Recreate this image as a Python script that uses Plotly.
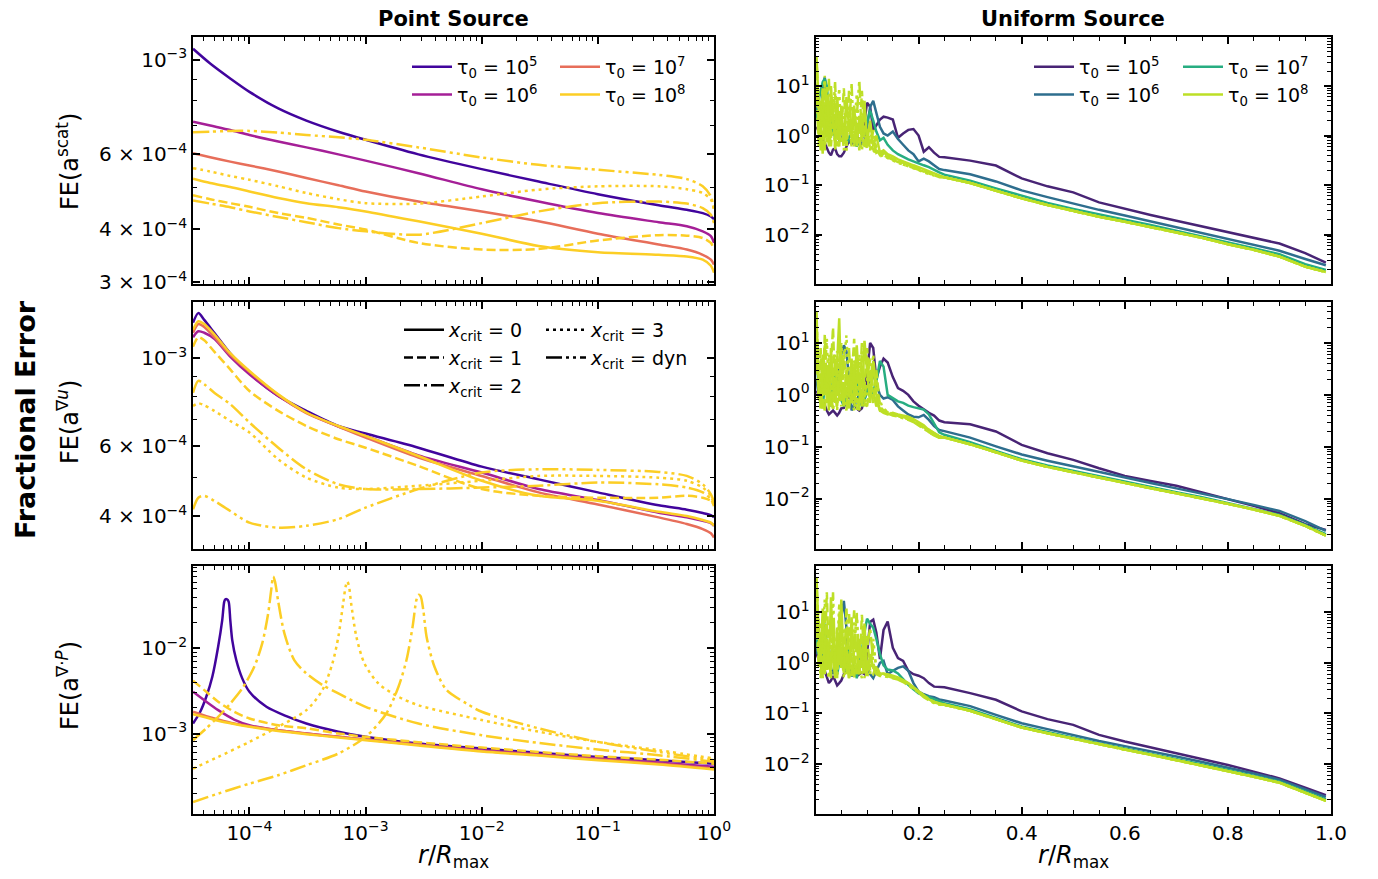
import plotly.graph_objects as go

FONT = "DejaVu Sans"
# the page body keeps an 8px margin, so the figure is drawn 8px smaller and offset
W, H, OFF = 1370, 871, 8


def px(x):
    return (x - OFF) / W


def py(y):
    return 1 - (y - OFF) / H


PLASMA = ["#41049d", "#a51f97", "#e76e5a", "#fcce25"]
VIRIDIS = ["#482475", "#2e6e8e", "#27ad81", "#bddf26"]
TAU_LABELS = [
    "τ<sub>0</sub> = 10<sup>5</sup>",
    "τ<sub>0</sub> = 10<sup>6</sup>",
    "τ<sub>0</sub> = 10<sup>7</sup>",
    "τ<sub>0</sub> = 10<sup>8</sup>",
]
XCRIT_LABELS = [
    "<i>x</i><sub>crit</sub> = 0",
    "<i>x</i><sub>crit</sub> = 1",
    "<i>x</i><sub>crit</sub> = 2",
    "<i>x</i><sub>crit</sub> = 3",
    "<i>x</i><sub>crit</sub> = dyn",
]
DASHES = ["solid", "9px,4px", "16px,4px,3px,4px", "3px,4px", "16px,4px,3px,4px,3px,4px"]

# ---------------- point source (left column), r / R_max ----------------
R_SCAT = [3.27e-5, 4.59e-5, 6.83e-5, 1e-4, 1.77e-4, 3.09e-4, 5.83e-4, 1e-3, 2.85e-3,
          1e-2, 3.09e-2, 0.1, 0.334, 0.583, 0.80, 0.94, 1.0]
SCAT_1E5 = [1.06e-3, 9.79e-4, 9.03e-4, 8.40e-4, 7.68e-4, 7.19e-4, 6.77e-4, 6.48e-4, 5.99e-4,
            5.53e-4, 5.17e-4, 4.83e-4, 4.55e-4, 4.44e-4, 4.36e-4, 4.28e-4, 4.22e-4]
SCAT_1E6 = [7.15e-4, 7.00e-4, 6.83e-4, 6.65e-4, 6.42e-4, 6.22e-4, 5.99e-4, 5.79e-4, 5.41e-4,
            4.96e-4, 4.64e-4, 4.36e-4, 4.15e-4, 4.06e-4, 3.95e-4, 3.85e-4, 3.71e-4]
SCAT_1E7 = [6.03e-4, 5.90e-4, 5.76e-4, 5.64e-4, 5.46e-4, 5.27e-4, 5.07e-4, 4.90e-4, 4.64e-4,
            4.40e-4, 4.17e-4, 3.90e-4, 3.68e-4, 3.58e-4, 3.48e-4, 3.39e-4, 3.30e-4]
SCAT_1E8 = [5.25e-4, 5.13e-4, 5.02e-4, 4.90e-4, 4.73e-4, 4.60e-4, 4.50e-4, 4.40e-4, 4.17e-4,
            3.90e-4, 3.65e-4, 3.53e-4, 3.48e-4, 3.45e-4, 3.39e-4, 3.28e-4, 3.16e-4]
SCAT_1E8_X1 = [4.80e-4, 4.70e-4, 4.60e-4, 4.51e-4, 4.36e-4, 4.25e-4, 4.10e-4, 3.99e-4, 3.71e-4,
               3.58e-4, 3.59e-4, 3.76e-4, 3.87e-4, 3.86e-4, 3.81e-4, 3.71e-4, 3.58e-4]
SCAT_1E8_X2 = [4.67e-4, 4.59e-4, 4.50e-4, 4.40e-4, 4.27e-4, 4.15e-4, 4.02e-4, 3.95e-4, 3.88e-4,
               4.13e-4, 4.40e-4, 4.60e-4, 4.64e-4, 4.59e-4, 4.48e-4, 4.32e-4, 4.13e-4]
SCAT_1E8_X3 = [5.56e-4, 5.46e-4, 5.33e-4, 5.22e-4, 5.04e-4, 4.86e-4, 4.70e-4, 4.60e-4, 4.59e-4,
               4.77e-4, 4.95e-4, 5.04e-4, 5.04e-4, 4.96e-4, 4.86e-4, 4.69e-4, 4.44e-4]
SCAT_1E8_DYN = [6.75e-4, 6.77e-4, 6.80e-4, 6.80e-4, 6.74e-4, 6.65e-4, 6.57e-4, 6.48e-4, 6.22e-4,
                5.89e-4, 5.66e-4, 5.51e-4, 5.36e-4, 5.24e-4, 5.04e-4, 4.77e-4, 4.40e-4]

R_GRADU = [3.27e-5, 3.63e-5, 4.08e-5, 4.98e-5, 6.83e-5, 1e-4, 1.77e-4, 3.09e-4, 5.83e-4, 1e-3,
           2.85e-3, 1e-2, 3.09e-2, 0.1, 0.334, 0.583, 0.80, 0.94, 1.0]
GRADU_1E5 = [1.23e-3, 1.30e-3, 1.25e-3, 1.16e-3, 1.03e-3, 9.17e-4, 8.04e-4, 7.37e-4, 6.75e-4, 6.46e-4,
             5.95e-4, 5.33e-4, 4.95e-4, 4.59e-4, 4.26e-4, 4.15e-4, 4.07e-4, 4.02e-4, 3.97e-4]
GRADU_1E6 = [1.13e-3, 1.17e-3, 1.16e-3, 1.12e-3, 1.01e-3, 9.11e-4, 8.04e-4, 7.30e-4, 6.73e-4, 6.37e-4,
             5.69e-4, 5.15e-4, 4.68e-4, 4.39e-4, 4.08e-4, 3.97e-4, 3.89e-4, 3.84e-4, 3.78e-4]
GRADU_1E7 = [1.16e-3, 1.22e-3, 1.20e-3, 1.13e-3, 1.02e-3, 9.24e-4, 8.08e-4, 7.27e-4, 6.73e-4, 6.31e-4,
             5.62e-4, 5.05e-4, 4.59e-4, 4.28e-4, 3.97e-4, 3.82e-4, 3.71e-4, 3.62e-4, 3.53e-4]
GRADU_1E8 = [1.18e-3, 1.24e-3, 1.22e-3, 1.15e-3, 1.03e-3, 9.29e-4, 8.11e-4, 7.30e-4, 6.75e-4, 6.37e-4,
             5.67e-4, 4.91e-4, 4.50e-4, 4.37e-4, 4.10e-4, 4.00e-4, 3.91e-4, 3.85e-4, 3.78e-4]
GRADU_1E8_X1 = [1.07e-3, 1.13e-3, 1.11e-3, 1.04e-3, 9.38e-4, 8.27e-4, 7.37e-4, 6.75e-4, 6.25e-4, 5.95e-4,
                5.35e-4, 4.68e-4, 4.50e-4, 4.45e-4, 4.45e-4, 4.50e-4, 4.45e-4, 4.37e-4, 4.28e-4]
GRADU_1E8_X2 = [8.19e-4, 8.77e-4, 8.60e-4, 8.19e-4, 7.66e-4, 6.89e-4, 5.95e-4, 5.25e-4, 4.81e-4, 4.68e-4,
                4.68e-4, 4.72e-4, 4.77e-4, 4.86e-4, 4.81e-4, 4.72e-4, 4.59e-4, 4.41e-4, 4.24e-4]
GRADU_1E8_X3 = [7.58e-4, 7.70e-4, 7.61e-4, 7.37e-4, 6.95e-4, 6.50e-4, 5.56e-4, 5.00e-4, 4.72e-4, 4.68e-4,
                4.77e-4, 4.91e-4, 5.05e-4, 5.05e-4, 5.00e-4, 4.91e-4, 4.72e-4, 4.50e-4, 4.24e-4]
GRADU_1E8_DYN = [4.16e-4, 4.45e-4, 4.50e-4, 4.37e-4, 4.12e-4, 3.85e-4, 3.74e-4, 3.78e-4, 3.93e-4, 4.20e-4,
                 4.68e-4, 5.15e-4, 5.25e-4, 5.23e-4, 5.17e-4, 5.05e-4, 4.81e-4, 4.54e-4, 4.33e-4]

R_DIVP_1E5 = [3.27e-5, 3.77e-5, 4.25e-5, 4.79e-5, 5.38e-5, 5.83e-5, 6.07e-5, 6.21e-5, 6.41e-5,
              6.62e-5, 6.84e-5, 7.11e-5, 7.70e-5, 8.67e-5, 1e-4, 1.40e-4, 2.08e-4, 3.09e-4,
              5.83e-4, 1e-3, 2.85e-3, 1e-2, 3.09e-2, 0.1, 0.334, 1.0]
DIVP_1E5 = [1.31e-3, 1.80e-3, 2.70e-3, 4.64e-3, 1.05e-2, 2.15e-2, 3.54e-2, 3.77e-2, 3.77e-2,
            3.54e-2, 2.15e-2, 1.25e-2, 7.29e-3, 4.44e-3, 3.09e-3, 2.06e-3, 1.60e-3, 1.31e-3,
            1.05e-3, 9.14e-4, 7.62e-4, 6.66e-4, 5.93e-4, 5.31e-4, 4.85e-4, 4.43e-4]
R_DIVP = [3.27e-5, 4.25e-5, 5.38e-5, 7.39e-5, 1e-4, 1.77e-4, 3.09e-4, 5.83e-4, 1e-3, 2.85e-3,
          1e-2, 3.09e-2, 0.1, 0.334, 1.0]
DIVP_1E6 = [3.09e-3, 2.36e-3, 1.88e-3, 1.46e-3, 1.25e-3, 1.09e-3, 1.0e-3, 9.14e-4, 8.49e-4, 7.43e-4,
            6.37e-4, 5.71e-4, 5.08e-4, 4.56e-4, 4.06e-4]
DIVP_1E7 = [1.80e-3, 1.60e-3, 1.46e-3, 1.31e-3, 1.22e-3, 1.09e-3, 1.0e-3, 9.14e-4, 8.49e-4, 7.36e-4,
            6.25e-4, 5.61e-4, 4.94e-4, 4.43e-4, 3.87e-4]
DIVP_1E8 = [1.69e-3, 1.54e-3, 1.41e-3, 1.29e-3, 1.20e-3, 1.07e-3, 9.82e-4, 8.97e-4, 8.35e-4, 7.23e-4,
            6.14e-4, 5.51e-4, 4.85e-4, 4.32e-4, 3.77e-4]
DIVP_1E8_X1 = [4.17e-3, 3.09e-3, 2.36e-3, 1.80e-3, 1.50e-3, 1.25e-3, 1.15e-3, 1.0e-3, 9.14e-4, 7.91e-4,
               6.84e-4, 6.08e-4, 5.41e-4, 4.94e-4, 4.43e-4]
R_DIVP_X2 = [3.27e-5, 4.25e-5, 5.38e-5, 6.84e-5, 8.67e-5, 1.10e-4, 1.29e-4, 1.45e-4, 1.54e-4, 1.60e-4,
             1.66e-4, 1.77e-4, 2.00e-4, 2.43e-4, 3.09e-4, 4.25e-4, 5.83e-4, 1e-3, 2.85e-3, 1e-2,
             3.09e-2, 0.1, 0.334, 1.0]
DIVP_1E8_X2 = [8.35e-4, 1.15e-3, 1.57e-3, 2.25e-3, 3.38e-3, 6.08e-3, 1.15e-2, 2.58e-2, 4.86e-2, 6.97e-2,
               6.08e-2, 3.54e-2, 1.50e-2, 7.29e-3, 5.08e-3, 3.71e-3, 2.96e-3, 2.06e-3, 1.31e-3, 9.55e-4,
               7.76e-4, 6.48e-4, 5.56e-4, 4.65e-4]
R_DIVP_X3 = [3.27e-5, 5.38e-5, 1e-4, 1.77e-4, 3.09e-4, 4.25e-4, 5.18e-4, 5.83e-4, 6.41e-4, 6.73e-4,
             6.94e-4, 7.16e-4, 7.51e-4, 8.33e-4, 9.77e-4, 1.29e-3, 1.92e-3, 2.85e-3, 1e-2, 3.09e-2,
             0.1, 0.334, 1.0]
DIVP_1E8_X3 = [3.87e-4, 5.31e-4, 7.98e-4, 1.20e-3, 1.88e-3, 3.24e-3, 6.66e-3, 1.37e-2, 3.38e-2, 5.31e-2,
               6.08e-2, 5.56e-2, 3.38e-2, 1.37e-2, 6.66e-3, 3.87e-3, 2.70e-3, 2.15e-3, 1.44e-3, 1.05e-3,
               7.98e-4, 6.37e-4, 5.08e-4]
R_DIVP_DYN = [3.27e-5, 5.38e-5, 1e-4, 1.77e-4, 3.09e-4, 5.83e-4, 1e-3, 1.51e-3, 1.92e-3, 2.25e-3,
              2.54e-3, 2.74e-3, 2.85e-3, 2.97e-3, 3.14e-3, 3.35e-3, 3.92e-3, 4.98e-3, 7.40e-3, 1e-2,
              3.09e-2, 0.1, 0.334, 1.0]
DIVP_1E8_DYN = [1.57e-4, 1.97e-4, 2.58e-4, 3.24e-4, 4.24e-4, 5.82e-4, 9.14e-4, 1.72e-3, 3.54e-3, 7.29e-3,
                1.80e-2, 3.71e-2, 4.24e-2, 4.13e-2, 2.82e-2, 1.37e-2, 6.08e-3, 3.24e-3, 2.25e-3, 1.80e-3,
                1.15e-3, 7.98e-4, 6.08e-4, 4.85e-4]

# ---------------- uniform source (right column), r / R_max ----------------
HEAD_X = [0.002, 0.006, 0.01, 0.014, 0.018, 0.022, 0.026, 0.03, 0.034, 0.038, 0.042, 0.046, 0.05,
          0.055, 0.06, 0.065, 0.07, 0.075, 0.08, 0.085, 0.09, 0.095, 0.1, 0.106, 0.112, 0.118,
          0.125, 0.132, 0.14, 0.15, 0.16, 0.17, 0.18, 0.19, 0.2, 0.21, 0.22, 0.23, 0.24]
TAIL_X = [0.25, 0.3, 0.35, 0.4, 0.45, 0.5, 0.55, 0.6, 0.65, 0.7, 0.75, 0.8, 0.85, 0.9, 0.95, 0.99]

U_SCAT_1E5_HEAD = [1.5, 1.2, 1.0, 0.8, 0.7, 0.55, 0.45, 0.40, 0.52, 0.55, 0.42, 0.38, 0.38, 0.45, 0.6,
                   0.78, 0.68, 0.72, 0.95, 0.85, 0.8, 2.0, 4.6, 3.8, 1.3, 1.6, 2.1, 2.4, 2.3, 2.1,
                   0.9, 1.1, 1.3, 1.35, 1.0, 0.47, 0.58, 0.45, 0.37]
U_SCAT_1E6_HEAD = [3.0, 5.0, 2.0, 8.0, 15, 6.0, 1.5, 1.0, 1.8, 2.0, 1.2, 0.8, 0.8, 1.2, 1.1,
                   0.75, 0.7, 0.8, 0.85, 0.75, 0.68, 0.68, 1.5, 3.8, 5.0, 2.7, 1.5, 1.1, 1.0, 1.2,
                   0.85, 0.65, 0.5, 0.42, 0.30, 0.34, 0.30, 0.25, 0.21]
U_SCAT_1E7_HEAD = [2.0, 5.0, 8.0, 12, 14, 10, 3.0, 2.0, 1.2, 0.9, 1.2, 1.5, 1.5, 1.0, 0.7,
                   0.9, 1.1, 0.8, 0.6, 0.75, 0.9, 1.2, 1.8, 3.2, 2.0, 1.2, 0.8, 0.9, 0.65, 0.5,
                   0.42, 0.37, 0.33, 0.30, 0.27, 0.25, 0.23, 0.20, 0.18]
U_SCAT_1E8_HEAD = [40, 3.0, 0.5, 8.0, 1.2, 6.0, 0.6, 10, 2.0, 0.8, 5.0, 1.0, 3.5, 0.7, 6.0,
                   1.5, 0.9, 4.0, 0.6, 2.5, 0.8, 5.0, 0.7, 2.0, 0.6, 1.0, 0.45, 0.5, 0.42, 0.38,
                   0.33, 0.30, 0.27, 0.25, 0.23, 0.21, 0.19, 0.175, 0.16]
U_SCAT_1E8_X1_HEAD = [20, 1.0, 5.0, 0.4, 12, 2.0, 0.7, 4.0, 1.5, 7.0, 0.6, 3.0, 1.1, 9.0, 0.8,
                      2.0, 0.6, 3.5, 1.2, 0.7, 8.0, 1.0, 0.55, 1.5, 0.5, 0.6, 0.40, 0.42, 0.38, 0.34,
                      0.30, 0.28, 0.25, 0.23, 0.21, 0.195, 0.18, 0.165, 0.15]
U_SCAT_1E8_X2_HEAD = [8, 0.6, 3.0, 9.0, 0.5, 1.8, 14, 0.9, 2.5, 0.6, 6.0, 0.8, 2.2, 0.5, 4.0,
                      1.2, 11, 0.7, 1.8, 0.5, 2.0, 0.6, 1.4, 0.5, 0.8, 0.45, 0.5, 0.40, 0.36, 0.32,
                      0.29, 0.26, 0.24, 0.22, 0.20, 0.185, 0.17, 0.155, 0.145]
U_SCAT_1E8_X3_HEAD = [15, 2.0, 0.8, 4.0, 16, 0.7, 3.0, 1.0, 6.0, 0.5, 2.0, 9.0, 0.7, 1.5, 0.5,
                      3.0, 0.8, 1.2, 7.0, 0.9, 0.5, 1.6, 0.6, 0.9, 0.45, 0.55, 0.38, 0.40, 0.35, 0.31,
                      0.28, 0.26, 0.24, 0.22, 0.20, 0.18, 0.17, 0.155, 0.145]
U_SCAT_1E8_DYN_HEAD = [30, 5.0, 1.0, 0.5, 3.0, 10, 1.5, 0.6, 2.5, 12, 1.0, 0.6, 4.0, 1.8, 0.5,
                       8.0, 1.1, 0.6, 2.4, 13, 0.8, 0.55, 1.0, 0.5, 1.3, 0.5, 0.42, 0.45, 0.40, 0.35,
                       0.31, 0.28, 0.25, 0.23, 0.21, 0.19, 0.175, 0.16, 0.15]
U_SCAT_1E5_TAIL = [0.364, 0.311, 0.247, 0.136, 0.094, 0.071, 0.0446, 0.0327, 0.0247, 0.0189,
                   0.0145, 0.0115, 0.00869, 0.00657, 0.00419, 0.00271]
U_SCAT_1E6_TAIL = [0.20, 0.165, 0.118, 0.078, 0.057, 0.042, 0.0315, 0.0242, 0.0184, 0.0143,
                   0.0110, 0.00830, 0.00620, 0.00470, 0.00320, 0.00240]
U_SCAT_1E7_TAIL = [0.162, 0.122, 0.0856, 0.0608, 0.0432, 0.0327, 0.0251, 0.0198, 0.0155, 0.0119,
                   0.00925, 0.00689, 0.00528, 0.00399, 0.00251, 0.00192]
U_SCAT_1E8_TAIL = [0.143, 0.110, 0.0768, 0.0537, 0.0394, 0.0297, 0.0228, 0.0181, 0.0141, 0.0110,
                   0.00855, 0.00637, 0.00489, 0.00358, 0.00224, 0.00175]

U_GRADU_1E5_HEAD = [1.2, 1.0, 1.0, 0.8, 0.6, 0.5, 0.42, 0.45, 0.5, 0.45, 0.40, 0.45, 0.55, 0.56, 0.8,
                    0.95, 0.85, 0.7, 0.55, 0.5, 0.55, 0.9, 3.0, 10, 8.0, 2.0, 3.5, 5.0, 4.2, 2.2,
                    1.35, 1.2, 1.0, 0.75, 0.62, 0.52, 0.45, 0.40, 0.32]
U_GRADU_1E6_HEAD = [2.0, 1.0, 0.8, 2.5, 3.0, 1.5, 1.0, 0.6, 0.9, 1.4, 1.6, 3.0, 6.0, 9.0, 7.0,
                    2.0, 0.5, 0.65, 0.75, 1.1, 1.2, 0.8, 1.2, 2.0, 2.5, 1.6, 1.0, 0.85, 0.9, 0.8,
                    0.6, 0.5, 0.42, 0.38, 0.37, 0.41, 0.33, 0.25, 0.21]
U_GRADU_1E7_HEAD = [5.0, 1.5, 1.0, 0.6, 1.5, 2.5, 1.2, 0.9, 2.0, 3.0, 1.5, 1.0, 0.8, 0.6, 1.0,
                    1.4, 0.8, 1.5, 2.0, 0.9, 0.6, 0.8, 1.3, 0.9, 1.2, 1.8, 4.5, 3.5, 1.0, 0.85,
                    0.75, 0.7, 0.62, 0.58, 0.55, 0.52, 0.42, 0.28, 0.19]
U_GRADU_1E8_HEAD = [30, 2.0, 0.6, 6.0, 1.0, 3.0, 0.5, 8.0, 1.5, 0.7, 4.0, 30, 1.2, 0.6, 3.0,
                    0.9, 5.0, 0.8, 9.0, 1.5, 0.6, 11, 3.0, 0.7, 4.5, 1.0, 0.5, 0.45, 0.42, 0.45,
                    0.42, 0.40, 0.38, 0.34, 0.30, 0.26, 0.21, 0.18, 0.16]
U_GRADU_1E8_X1_HEAD = [12, 0.8, 5.0, 0.5, 15, 1.5, 0.7, 3.5, 20, 1.0, 0.6, 2.5, 0.8, 7.0, 1.2,
                       0.5, 2.0, 12, 1.0, 0.6, 3.5, 1.4, 8.0, 1.5, 0.7, 3.0, 0.6, 0.5, 0.45, 0.42,
                       0.40, 0.37, 0.35, 0.31, 0.27, 0.23, 0.19, 0.17, 0.15]
U_GRADU_1E8_X2_HEAD = [5, 1.2, 0.5, 2.5, 9.0, 0.7, 4.0, 1.1, 0.5, 6.0, 2.0, 0.8, 10, 1.5, 0.5,
                       2.2, 0.7, 4.0, 1.0, 0.5, 6.0, 0.9, 2.0, 5.0, 1.2, 0.6, 0.8, 0.5, 0.44, 0.40,
                       0.38, 0.36, 0.33, 0.30, 0.26, 0.22, 0.19, 0.165, 0.15]
U_GRADU_1E8_X3_HEAD = [20, 4.0, 1.0, 0.6, 3.0, 12, 0.8, 1.6, 0.5, 2.5, 7.0, 1.0, 0.6, 4.0, 14,
                       1.2, 0.7, 2.0, 0.5, 6.0, 1.5, 0.6, 1.0, 3.0, 0.8, 2.0, 0.55, 0.5, 0.46, 0.42,
                       0.39, 0.36, 0.34, 0.32, 0.28, 0.24, 0.20, 0.17, 0.15]
U_GRADU_1E8_DYN_HEAD = [40, 1.5, 8.0, 0.8, 0.5, 2.0, 6.0, 0.6, 3.0, 1.2, 0.5, 5.0, 2.5, 0.7, 1.5,
                        8.0, 0.9, 0.5, 3.0, 1.0, 10, 0.7, 0.6, 1.5, 6.0, 0.8, 0.5, 0.55, 0.47, 0.43,
                        0.40, 0.37, 0.35, 0.33, 0.29, 0.25, 0.21, 0.18, 0.16]
U_GRADU_1E5_TAIL = [0.297, 0.272, 0.197, 0.109, 0.0752, 0.0559, 0.0386, 0.0275, 0.0220, 0.0177,
                    0.0131, 0.00977, 0.00727, 0.00525, 0.00322, 0.00250]
U_GRADU_1E6_TAIL = [0.20, 0.15, 0.102, 0.071, 0.054, 0.042, 0.0323, 0.0254, 0.0200, 0.0158,
                    0.0126, 0.0098, 0.0076, 0.0058, 0.0037, 0.0024]
U_GRADU_1E7_TAIL = [0.170, 0.122, 0.0834, 0.0576, 0.0435, 0.0343, 0.0263, 0.0211, 0.0166, 0.0133,
                    0.0107, 0.00830, 0.00646, 0.00487, 0.00313, 0.00207]
U_GRADU_1E8_TAIL = [0.151, 0.112, 0.0786, 0.0543, 0.0410, 0.0324, 0.0248, 0.0199, 0.0159, 0.0127,
                    0.0102, 0.00794, 0.00618, 0.00466, 0.00299, 0.00195]

U_DIVP_1E5_HEAD = [1.5, 1.2, 1.2, 0.9, 0.7, 0.5, 0.40, 0.45, 0.55, 0.45, 0.36, 0.40, 0.45, 0.6, 0.8,
                   0.9, 0.7, 0.6, 0.55, 0.6, 0.65, 0.6, 1.5, 6.5, 7.2, 4.0, 1.2, 4.5, 6.6, 2.0,
                   1.25, 1.1, 0.7, 0.60, 0.56, 0.50, 0.40, 0.34, 0.33]
U_DIVP_1E6_HEAD = [1.5, 2.5, 3.0, 1.2, 0.8, 1.5, 2.0, 0.8, 0.6, 0.9, 1.2, 2.5, 8.0, 17, 5.0,
                   0.8, 0.54, 0.74, 0.62, 0.9, 1.5, 1.1, 0.8, 0.6, 0.5, 0.7, 1.0, 1.1, 0.6, 0.7,
                   0.8, 0.86, 0.7, 0.4, 0.27, 0.24, 0.22, 0.21, 0.19]
U_DIVP_1E7_HEAD = [3.0, 1.5, 1.0, 3.0, 6.0, 2.0, 0.8, 1.2, 2.0, 0.9, 0.6, 1.0, 1.5, 0.8, 0.7,
                   2.0, 1.2, 0.9, 0.5, 1.0, 1.8, 4.0, 7.5, 6.0, 5.0, 3.0, 1.5, 0.9, 0.74, 0.71,
                   0.62, 0.48, 0.37, 0.30, 0.25, 0.23, 0.21, 0.19, 0.175]
U_DIVP_1E8_HEAD = [50, 4.0, 1.0, 12, 0.6, 3.0, 0.8, 20, 1.5, 0.5, 5.0, 0.9, 18, 0.7, 2.0,
                   0.5, 8.0, 1.0, 0.6, 3.0, 0.8, 6.0, 0.6, 1.5, 0.8, 0.65, 0.62, 0.62, 0.60, 0.56,
                   0.52, 0.46, 0.40, 0.33, 0.28, 0.23, 0.19, 0.17, 0.16]
U_DIVP_1E8_X1_HEAD = [15, 0.8, 6.0, 0.5, 2.0, 25, 1.0, 0.6, 4.0, 1.5, 0.5, 9.0, 0.8, 3.0, 0.6,
                      10, 1.2, 0.5, 2.5, 0.7, 9.0, 1.0, 3.5, 0.7, 0.6, 0.9, 0.6, 0.58, 0.55, 0.52,
                      0.48, 0.44, 0.38, 0.32, 0.27, 0.22, 0.19, 0.165, 0.155]
U_DIVP_1E8_X2_HEAD = [6.0, 1.5, 0.5, 3.0, 10, 0.7, 1.8, 0.5, 8.0, 2.0, 0.6, 1.5, 4.0, 0.6, 12,
                      1.0, 0.5, 2.5, 9.0, 0.6, 1.2, 0.5, 2.0, 5.0, 1.0, 0.6, 0.55, 0.55, 0.52, 0.50,
                      0.47, 0.42, 0.36, 0.31, 0.26, 0.21, 0.18, 0.16, 0.15]
U_DIVP_1E8_X3_HEAD = [25, 2.0, 0.7, 5.0, 18, 0.9, 0.5, 2.5, 6.0, 0.7, 1.2, 15, 2.0, 0.5, 1.0,
                      4.0, 0.7, 2.0, 10, 0.8, 0.5, 2.5, 1.0, 0.6, 3.0, 0.7, 0.58, 0.60, 0.57, 0.53,
                      0.49, 0.44, 0.38, 0.32, 0.27, 0.22, 0.185, 0.165, 0.15]
U_DIVP_1E8_DYN_HEAD = [35, 8.0, 1.2, 0.6, 2.5, 6.0, 0.5, 1.5, 25, 1.0, 0.6, 3.0, 0.8, 5.0, 1.5,
                       0.5, 2.0, 11, 1.0, 0.6, 3.5, 0.8, 0.5, 1.0, 2.0, 0.8, 0.6, 0.62, 0.58, 0.54,
                       0.50, 0.45, 0.39, 0.33, 0.28, 0.23, 0.19, 0.17, 0.155]
U_DIVP_1E5_TAIL = [0.329, 0.253, 0.187, 0.110, 0.0772, 0.0596, 0.0377, 0.0278, 0.0214, 0.0163,
                   0.0124, 0.00955, 0.00705, 0.00519, 0.00339, 0.00242]
U_DIVP_1E6_TAIL = [0.18, 0.140, 0.094, 0.064, 0.049, 0.0375, 0.0285, 0.0226, 0.0180, 0.0141,
                   0.0110, 0.0085, 0.0065, 0.0049, 0.0032, 0.00222]
U_DIVP_1E7_TAIL = [0.160, 0.122, 0.0807, 0.0552, 0.0432, 0.0329, 0.0254, 0.0202, 0.0160, 0.0126,
                   0.00984, 0.00760, 0.00586, 0.00446, 0.00286, 0.00199]
U_DIVP_1E8_TAIL = [0.149, 0.113, 0.0772, 0.0527, 0.0407, 0.0314, 0.0242, 0.0193, 0.0153, 0.0120,
                   0.00941, 0.00726, 0.00560, 0.00426, 0.00274, 0.00187]

fig = go.Figure()


def add_line(x, y, ax, color, dash="solid", name=None, legend=None, smooth=True):
    fig.add_trace(
        go.Scatter(
            x=x,
            y=y,
            xaxis="x" + ax,
            yaxis="y" + ax,
            mode="lines",
            line={"color": color, "width": 2.5, "dash": dash,
                  "shape": "spline" if smooth else "linear", "smoothing": 0.8},
            name=name,
            showlegend=legend is not None,
            legend=legend or "legend",
            hoverinfo="skip",
        )
    )


# point source panels
left_panels = [
    ("", [(R_SCAT, SCAT_1E5), (R_SCAT, SCAT_1E6), (R_SCAT, SCAT_1E7), (R_SCAT, SCAT_1E8)],
     [(R_SCAT, SCAT_1E8_X1), (R_SCAT, SCAT_1E8_X2), (R_SCAT, SCAT_1E8_X3), (R_SCAT, SCAT_1E8_DYN)]),
    ("3", [(R_GRADU, GRADU_1E5), (R_GRADU, GRADU_1E6), (R_GRADU, GRADU_1E7), (R_GRADU, GRADU_1E8)],
     [(R_GRADU, GRADU_1E8_X1), (R_GRADU, GRADU_1E8_X2), (R_GRADU, GRADU_1E8_X3), (R_GRADU, GRADU_1E8_DYN)]),
    ("5", [(R_DIVP_1E5, DIVP_1E5), (R_DIVP, DIVP_1E6), (R_DIVP, DIVP_1E7), (R_DIVP, DIVP_1E8)],
     [(R_DIVP, DIVP_1E8_X1), (R_DIVP_X2, DIVP_1E8_X2), (R_DIVP_X3, DIVP_1E8_X3), (R_DIVP_DYN, DIVP_1E8_DYN)]),
]
for ax, solids, variants in left_panels:
    for i, (x, y) in enumerate(solids):
        leg = None
        if ax == "":
            leg = "legend" if i < 2 else "legend2"
        add_line(x, y, ax, PLASMA[i], name=TAU_LABELS[i], legend=leg)
    for k, (x, y) in enumerate(variants):
        add_line(x, y, ax, PLASMA[3], dash=DASHES[k + 1])

# uniform source panels
right_panels = [
    ("2", [U_SCAT_1E5_HEAD, U_SCAT_1E6_HEAD, U_SCAT_1E7_HEAD, U_SCAT_1E8_HEAD],
     [U_SCAT_1E5_TAIL, U_SCAT_1E6_TAIL, U_SCAT_1E7_TAIL, U_SCAT_1E8_TAIL],
     [U_SCAT_1E8_X1_HEAD, U_SCAT_1E8_X2_HEAD, U_SCAT_1E8_X3_HEAD, U_SCAT_1E8_DYN_HEAD]),
    ("4", [U_GRADU_1E5_HEAD, U_GRADU_1E6_HEAD, U_GRADU_1E7_HEAD, U_GRADU_1E8_HEAD],
     [U_GRADU_1E5_TAIL, U_GRADU_1E6_TAIL, U_GRADU_1E7_TAIL, U_GRADU_1E8_TAIL],
     [U_GRADU_1E8_X1_HEAD, U_GRADU_1E8_X2_HEAD, U_GRADU_1E8_X3_HEAD, U_GRADU_1E8_DYN_HEAD]),
    ("6", [U_DIVP_1E5_HEAD, U_DIVP_1E6_HEAD, U_DIVP_1E7_HEAD, U_DIVP_1E8_HEAD],
     [U_DIVP_1E5_TAIL, U_DIVP_1E6_TAIL, U_DIVP_1E7_TAIL, U_DIVP_1E8_TAIL],
     [U_DIVP_1E8_X1_HEAD, U_DIVP_1E8_X2_HEAD, U_DIVP_1E8_X3_HEAD, U_DIVP_1E8_DYN_HEAD]),
]
for ax, heads, tails, variants in right_panels:
    for i in range(4):
        leg = None
        if ax == "2":
            leg = "legend5" if i < 2 else "legend6"
        add_line(HEAD_X + TAIL_X, heads[i] + tails[i], ax, VIRIDIS[i],
                 name=TAU_LABELS[i], legend=leg, smooth=False)
    for k, head in enumerate(variants):
        add_line(HEAD_X + TAIL_X, head + tails[3], ax, VIRIDIS[3], dash=DASHES[k + 1], smooth=False)

# line-style legend (legend-only entries)
for k in range(5):
    fig.add_trace(
        go.Scatter(
            x=[None], y=[None], xaxis="x3", yaxis="y3", mode="lines",
            line={"color": "black", "width": 2.5, "dash": DASHES[k]},
            name=XCRIT_LABELS[k], legend="legend3" if k < 3 else "legend4",
            hoverinfo="skip",
        )
    )

DOM_XL = [px(193), px(714)]
DOM_XR = [px(815.5), px(1331)]
DOM_Y = [[py(284), py(37)], [py(549), py(302)], [py(814), py(566)]]

AXIS = {
    "showline": True, "linecolor": "black", "linewidth": 1.5, "mirror": "allticks",
    "ticks": "inside", "ticklen": 7, "tickwidth": 1.5, "tickcolor": "black",
    "showgrid": False, "zeroline": False, "automargin": False,
    "tickfont": {"family": FONT, "size": 20, "color": "black"},
}


def minor(vals):
    return {"tickvals": vals, "ticks": "inside", "ticklen": 4, "tickwidth": 1,
            "tickcolor": "black", "showgrid": False}


def sci(m, e):
    lead = "" if m == 1 else f"{m} × "
    return f"{lead}10<sup>{e}</sup>".replace("-", "−")


LOG_MINORS = [d * 10.0 ** k for k in range(-5, 3) for d in range(2, 10)]
LEFT_X_TICKS = [1e-4, 1e-3, 1e-2, 1e-1, 1]
RIGHT_Y_TICKS = [1e-2, 1e-1, 1, 10]
RIGHT_X_TICKS = [0.2, 0.4, 0.6, 0.8, 1.0]
RIGHT_X_MINOR = [0.05, 0.1, 0.15, 0.25, 0.3, 0.35, 0.45, 0.5, 0.55, 0.65, 0.7, 0.75, 0.85, 0.9, 0.95]

layout = {}
left_y = [
    ([-3.527, -2.947], [3e-4, 4e-4, 6e-4, 1e-3], [sci(3, -4), sci(4, -4), sci(6, -4), sci(1, -3)],
     [5e-4, 7e-4, 8e-4, 9e-4]),
    ([-3.481, -2.858], [4e-4, 6e-4, 1e-3], [sci(4, -4), sci(6, -4), sci(1, -3)],
     [5e-4, 7e-4, 8e-4, 9e-4]),
    ([-3.945, -1.033], [1e-3, 1e-2], [sci(1, -3), sci(1, -2)], LOG_MINORS),
]
right_y_ranges = [[-3.0, 1.99], [-2.97, 1.79], [-2.99, 1.92]]
for row in range(3):
    la = str(2 * row + 1) if row else ""
    ra = str(2 * row + 2)
    bottom = row == 2
    layout["xaxis" + la] = dict(
        AXIS, type="log", range=[-4.486, 0], domain=DOM_XL, anchor="y" + la,
        tickvals=LEFT_X_TICKS, ticktext=[sci(1, e) for e in (-4, -3, -2, -1, 0)],
        showticklabels=bottom, minor=minor(LOG_MINORS),
    )
    rng, tv, tt, mv = left_y[row]
    layout["yaxis" + la] = dict(
        AXIS, type="log", range=rng, domain=DOM_Y[row], anchor="x" + la,
        tickvals=tv, ticktext=tt, minor=minor(mv),
    )
    layout["xaxis" + ra] = dict(
        AXIS, range=[0, 1], domain=DOM_XR, anchor="y" + ra,
        tickvals=RIGHT_X_TICKS, ticktext=["0.2", "0.4", "0.6", "0.8", "1.0"],
        showticklabels=bottom, minor=minor(RIGHT_X_MINOR),
    )
    layout["yaxis" + ra] = dict(
        AXIS, type="log", range=right_y_ranges[row], domain=DOM_Y[row], anchor="x" + ra,
        tickvals=RIGHT_Y_TICKS, ticktext=[sci(1, e) for e in (-2, -1, 0, 1)],
        minor=minor(LOG_MINORS),
    )

LEG = {"bgcolor": "rgba(0,0,0,0)", "borderwidth": 0, "xanchor": "left", "yanchor": "top",
       "font": {"family": FONT, "size": 19, "color": "black"}, "itemwidth": 40,
       "tracegroupgap": 0}
layout["legend"] = dict(LEG, x=px(407), y=py(48))
layout["legend2"] = dict(LEG, x=px(555), y=py(48))
layout["legend3"] = dict(LEG, x=px(399), y=py(311))
layout["legend4"] = dict(LEG, x=px(541), y=py(311))
layout["legend5"] = dict(LEG, x=px(1029), y=py(48))
layout["legend6"] = dict(LEG, x=px(1178), y=py(48))

ann_font = {"family": FONT, "color": "black"}
annotations = [
    dict(text="<b>Point Source</b>", x=px(453.5), y=py(19), font=dict(ann_font, size=21)),
    dict(text="<b>Uniform Source</b>", x=px(1073), y=py(19), font=dict(ann_font, size=21)),
    dict(text="<b>Fractional Error</b>", x=px(25), y=py(420), textangle=-90,
         font=dict(ann_font, size=27)),
    dict(text="FE(a<sup>scat</sup>)", x=px(68), y=py(162), textangle=-90,
         font=dict(ann_font, size=24)),
    dict(text="FE(a<sup>∇<i>u</i></sup>)", x=px(68), y=py(422), textangle=-90,
         font=dict(ann_font, size=24)),
    dict(text="FE(a<sup>∇·<i>P</i></sup>)", x=px(68), y=py(686), textangle=-90,
         font=dict(ann_font, size=24)),
    dict(text="<i>r</i>/<i>R</i><sub>max</sub>", x=px(453.5), y=py(856),
         font=dict(ann_font, size=24)),
    dict(text="<i>r</i>/<i>R</i><sub>max</sub>", x=px(1073), y=py(856),
         font=dict(ann_font, size=24)),
]
for a in annotations:
    a.update(xref="paper", yref="paper", showarrow=False, xanchor="center", yanchor="middle")

fig.update_layout(
    width=W, height=H,
    margin={"l": 0, "r": 0, "t": 0, "b": 0, "autoexpand": False},
    paper_bgcolor="white", plot_bgcolor="white",
    font={"family": FONT, "color": "black"},
    annotations=annotations,
    **layout,
)

fig.write_html("out.html")
